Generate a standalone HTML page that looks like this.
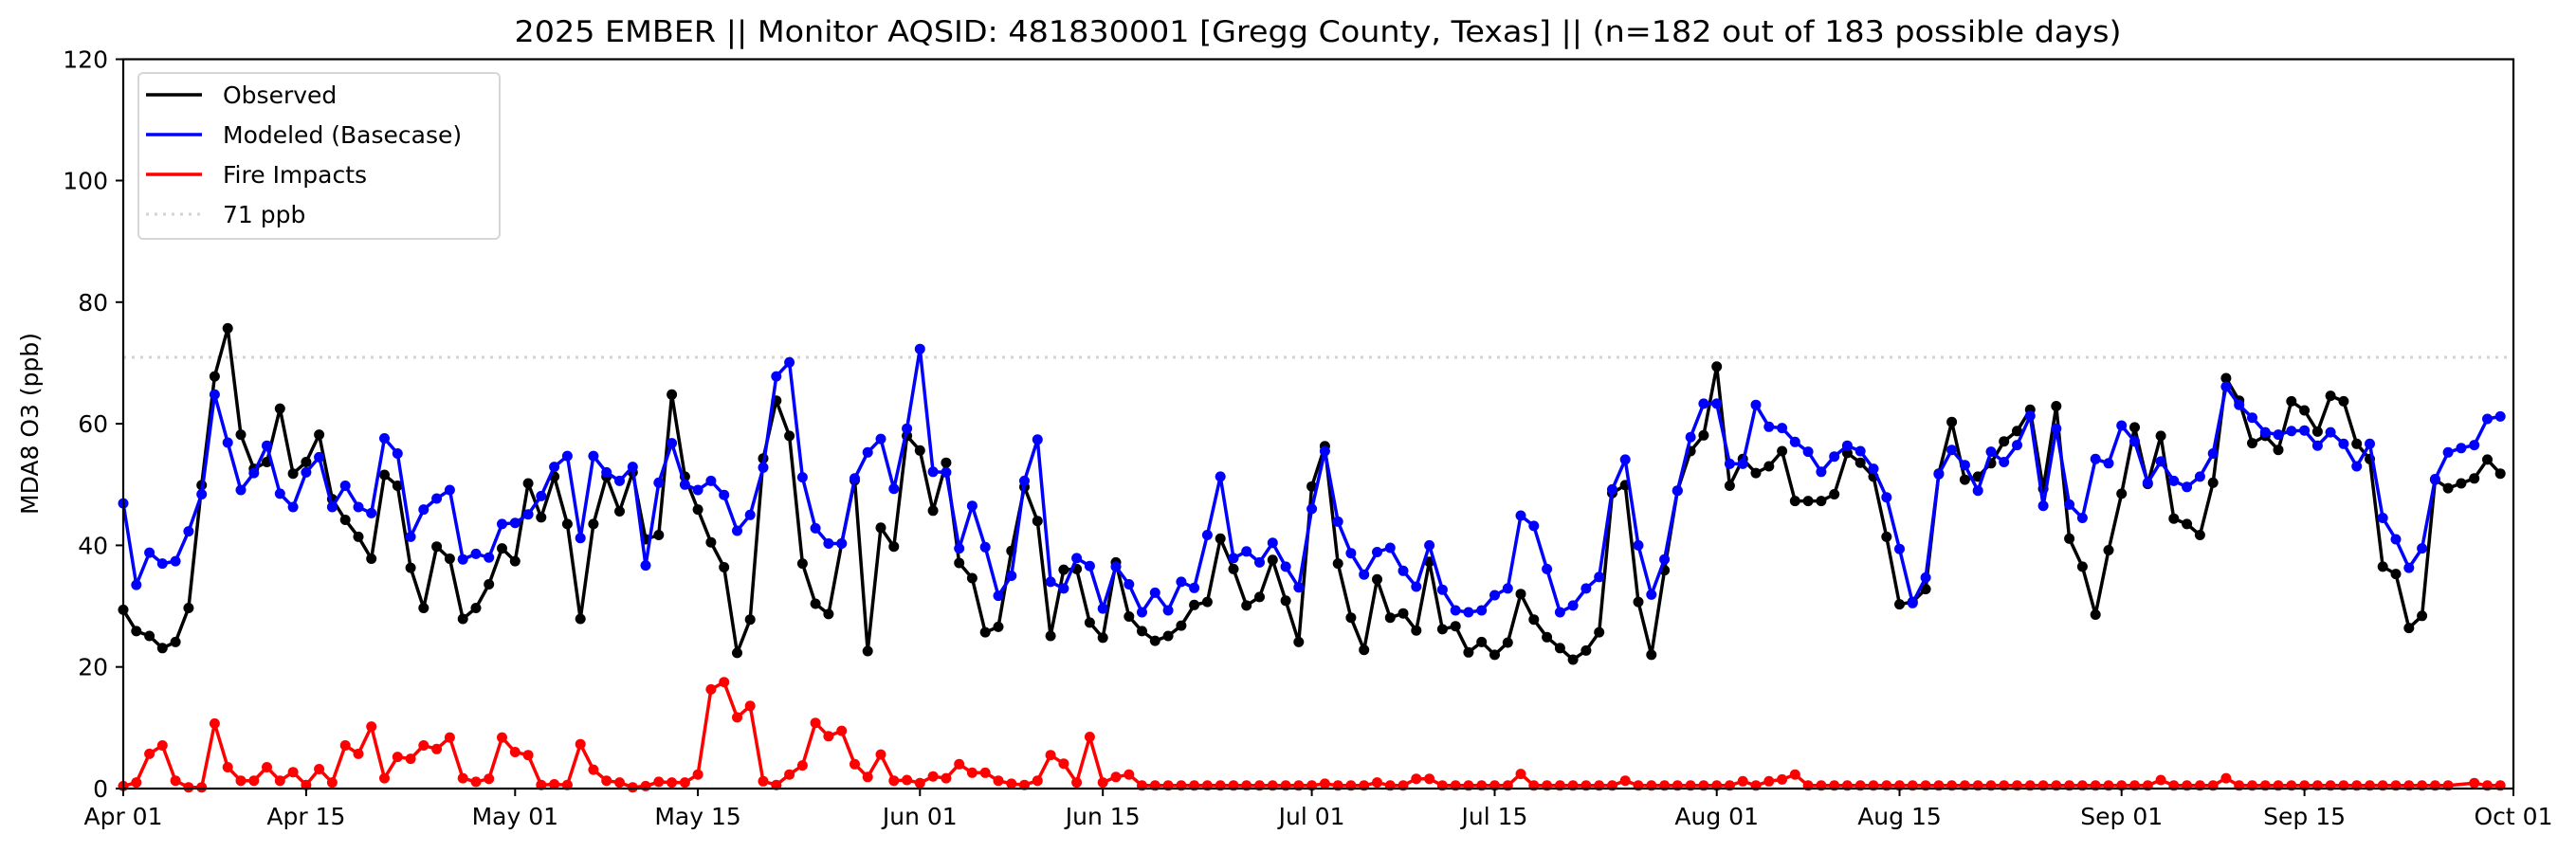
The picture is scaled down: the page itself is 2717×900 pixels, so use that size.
<!DOCTYPE html>
<html><head><meta charset="utf-8"><style>
html,body{margin:0;padding:0;background:#fff;}
svg{display:block;font-family:"DejaVu Sans","Liberation Sans",sans-serif;}
</style></head><body>
<svg id="s" width="2717" height="900" viewBox="0 0 2717 900" xmlns="http://www.w3.org/2000/svg">
<rect width="2717" height="900" fill="#fff"/>
<text x="1390" y="44" font-size="31" text-anchor="middle" textLength="1695" lengthAdjust="spacingAndGlyphs">2025 EMBER || Monitor AQSID: 481830001 [Gregg County, Texas] || (n=182 out of 183 possible days)</text>
<line x1="130" y1="377" x2="2651" y2="377" stroke="#d3d3d3" stroke-width="3" stroke-dasharray="3,6"/>
<g id="data"></g>
<rect x="130" y="62.5" width="2521" height="769.5" fill="none" stroke="#000" stroke-width="2.2"/>
<g stroke="#000" stroke-width="2">
<line x1="122" y1="832" x2="130" y2="832"/><line x1="122" y1="703.7" x2="130" y2="703.7"/><line x1="122" y1="575.4" x2="130" y2="575.4"/><line x1="122" y1="447.1" x2="130" y2="447.1"/><line x1="122" y1="318.8" x2="130" y2="318.8"/><line x1="122" y1="190.5" x2="130" y2="190.5"/><line x1="122" y1="62.5" x2="130" y2="62.5"/>
<line x1="130" y1="832" x2="130" y2="840"/><line x1="322.9" y1="832" x2="322.9" y2="840"/><line x1="543.3" y1="832" x2="543.3" y2="840"/><line x1="736.1" y1="832" x2="736.1" y2="840"/><line x1="970.3" y1="832" x2="970.3" y2="840"/><line x1="1163.2" y1="832" x2="1163.2" y2="840"/><line x1="1383.6" y1="832" x2="1383.6" y2="840"/><line x1="1576.5" y1="832" x2="1576.5" y2="840"/><line x1="1810.7" y1="832" x2="1810.7" y2="840"/><line x1="2003.5" y1="832" x2="2003.5" y2="840"/><line x1="2237.7" y1="832" x2="2237.7" y2="840"/><line x1="2430.6" y1="832" x2="2430.6" y2="840"/><line x1="2651" y1="832" x2="2651" y2="840"/>
</g>
<g font-size="25" text-anchor="end">
<text x="114" y="841">0</text><text x="114" y="712.7">20</text><text x="114" y="584.4">40</text><text x="114" y="456.1">60</text><text x="114" y="327.8">80</text><text x="114" y="199.5">100</text><text x="114" y="71.5">120</text>
</g>
<g font-size="25" text-anchor="middle">
<text x="130" y="870">Apr 01</text><text x="322.9" y="870">Apr 15</text><text x="543.3" y="870">May 01</text><text x="736.1" y="870">May 15</text><text x="970.3" y="870">Jun 01</text><text x="1163.2" y="870">Jun 15</text><text x="1383.6" y="870">Jul 01</text><text x="1576.5" y="870">Jul 15</text><text x="1810.7" y="870">Aug 01</text><text x="2003.5" y="870">Aug 15</text><text x="2237.7" y="870">Sep 01</text><text x="2430.6" y="870">Sep 15</text><text x="2651" y="870">Oct 01</text>
</g>
<text transform="translate(40,447) rotate(-90)" font-size="25" text-anchor="middle">MDA8 O3 (ppb)</text>
<rect x="146" y="77" width="381" height="175" rx="5" fill="#fff" fill-opacity="0.8" stroke="#d6d6d6" stroke-width="2"/>
<line x1="154" y1="100" x2="213" y2="100" stroke="#000" stroke-width="3.5"/>
<line x1="154" y1="142" x2="213" y2="142" stroke="#0000ff" stroke-width="3.5"/>
<line x1="154" y1="184" x2="213" y2="184" stroke="#ff0000" stroke-width="3.5"/>
<line x1="154" y1="226" x2="213" y2="226" stroke="#d3d3d3" stroke-width="3" stroke-dasharray="3,6"/>
<g font-size="25">
<text x="235" y="109">Observed</text><text x="235" y="151">Modeled (Basecase)</text><text x="235" y="193">Fire Impacts</text><text x="235" y="235">71 ppb</text>
</g>
</svg>
<script>
var obs=[29.4,25.9,25.1,23.1,24.1,29.7,49.9,67.8,75.7,58.2,52.6,53.7,62.5,51.8,53.7,58.2,47.6,44.2,41.4,37.8,51.6,49.8,36.3,29.7,39.8,37.8,27.9,29.7,33.6,39.5,37.4,50.2,44.6,51.3,43.5,27.9,43.5,51.3,45.6,52.0,41,41.7,64.8,51.3,45.9,40.5,36.4,22.3,27.8,54.3,63.8,58,37,30.4,28.7,40.3,50.7,22.6,42.9,39.8,58,55.6,45.7,53.6,37.1,34.6,25.7,26.6,39.1,49.6,44,25.1,36,36.1,27.3,24.8,37.2,28.3,25.9,24.3,25.1,26.8,30.2,30.7,41.1,36.1,30.1,31.5,37.6,30.9,24.1,49.7,56.3,37,28.1,22.8,34.4,28.1,28.8,26,37.3,26.2,26.7,22.4,24.1,22,24,32,27.8,24.9,23.1,21.2,22.7,25.7,48.6,49.9,30.7,22,35.9,49,55.5,58.1,69.4,49.8,54.2,51.9,53,55.5,47.3,47.3,47.3,48.4,55.2,53.6,51.3,41.4,30.3,30.7,32.8,51.8,60.3,50.8,51.3,53.5,57.1,58.8,62.3,49.3,62.9,41.1,36.5,28.6,39.2,48.5,59.4,50.1,58,44.4,43.5,41.7,50.3,67.5,63.8,56.8,58,55.7,63.7,62.2,58.7,64.6,63.7,56.7,54.2,36.5,35.3,26.4,28.4,50.8,49.4,50.2,51,54.1,51.8];
var mod=[46.9,33.5,38.8,37,37.4,42.3,48.4,64.8,56.9,49.1,51.9,56.4,48.5,46.3,52,54.5,46.3,49.8,46.3,45.3,57.6,55.1,41.4,45.9,47.7,49.1,37.7,38.6,38,43.5,43.7,45.1,48.1,52.9,54.7,41.2,54.7,52,50.6,52.9,36.7,50.3,56.8,50,49.1,50.6,48.3,42.4,45,52.8,67.8,70.1,51.2,42.8,40.3,40.3,51,55.3,57.5,49.3,59.2,72.3,52.1,52,39.5,46.5,39.7,31.7,35,50.6,57.4,34,32.9,37.9,36.6,29.6,36.5,33.6,29,32.2,29.3,34,33,41.7,51.3,37.9,39,37.2,40.4,36.5,33.1,46,55.5,43.9,38.7,35.2,38.9,39.6,35.8,33.2,40,32.7,29.3,29,29.3,31.8,32.9,44.9,43.2,36.1,29,30.1,32.9,34.8,49.2,54.1,40,31.9,37.7,49,57.8,63.3,63.3,53.4,53.4,63.1,59.5,59.3,57,55.4,52.1,54.6,56.4,55.5,52.6,47.9,39.4,30.5,34.7,51.7,55.7,53.2,49,55.4,53.7,56.5,61.3,46.5,59.2,46.7,44.5,54.2,53.5,59.7,57.1,50.3,53.8,50.6,49.6,51.3,55.1,66.1,63.1,61,58.6,58.2,58.8,58.9,56.4,58.6,56.7,53,56.7,44.5,41,36.3,39.5,50.9,55.3,56,56.5,60.8,61.2];
var fire=[0.4,1,5.7,7.1,1.3,0.2,0.2,10.7,3.5,1.3,1.3,3.5,1.3,2.7,0.6,3.2,1,7.1,5.7,10.2,1.7,5.2,4.9,7.1,6.5,8.4,1.7,1.1,1.6,8.4,6,5.5,0.6,0.7,0.6,7.3,3.1,1.3,1,0.2,0.4,1.1,1,1,2.3,16.3,17.5,11.7,13.6,1.2,0.6,2.3,3.8,10.8,8.6,9.5,4,1.9,5.6,1.3,1.4,0.9,2,1.7,4,2.6,2.6,1.3,0.8,0.6,1.3,5.5,4.1,1,8.5,1,1.9,2.3];
while(fire.length<183)fire.push(0.5);
var b={92:0.8,96:1,99:1.6,100:1.6,107:2.4,115:1.3,124:1.2,126:1.2,127:1.5,128:2.3,156:1.4,161:1.7,180:0.9};
for(var k in b)fire[k]=b[k];
function X(d){return 130+13.776*d;}
function Y(v){return 832-6.415*v;}
var g=document.getElementById('data'),ns='http://www.w3.org/2000/svg',h='';
function ser(a,c,skip){var p=[];for(var i=0;i<a.length;i++){if(skip&&skip.indexOf(i)>=0)continue;p.push(X(i).toFixed(1)+','+Y(a[i]).toFixed(1));}
h+='<polyline points="'+p.join(' ')+'" fill="none" stroke="'+c+'" stroke-width="3.5" stroke-linejoin="round"/>';
for(var j=0;j<p.length;j++){var q=p[j].split(',');h+='<circle cx="'+q[0]+'" cy="'+q[1]+'" r="5.5" fill="'+c+'"/>';}}
ser(obs,'#000');ser(mod,'#0000ff');ser(fire,'#ff0000',[179]);
g.innerHTML=h;
</script>
</body></html>
